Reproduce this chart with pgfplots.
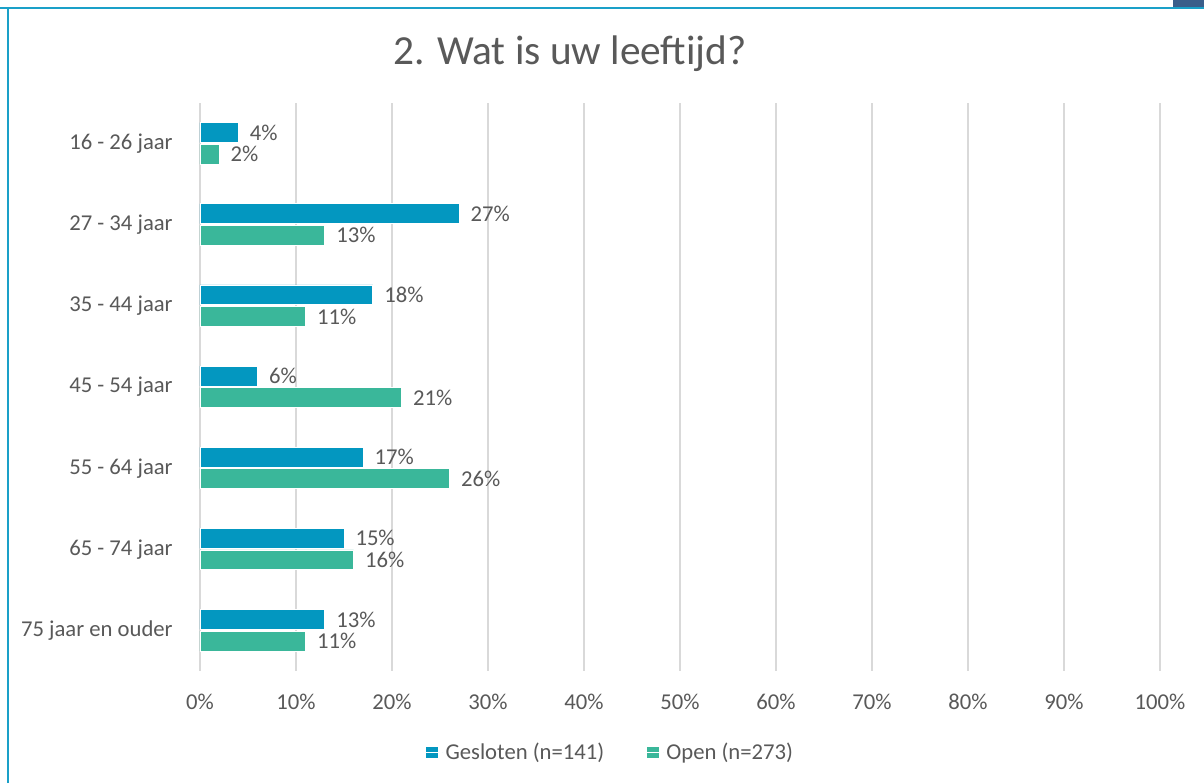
\documentclass[border=0pt]{standalone}
\usepackage{pgfplots}
\pgfplotsset{compat=1.18}
\usepackage{fontspec}
\setmainfont{Carlito}
\definecolor{gblue}{RGB}{3,151,192}
\definecolor{ogreen}{RGB}{58,183,154}
\definecolor{txt}{RGB}{89,89,89}
\definecolor{gridc}{RGB}{217,217,217}
\definecolor{frame}{RGB}{26,160,200}
\definecolor{corner}{RGB}{58,94,138}
\begin{document}
\begin{tikzpicture}[x=0.75pt,y=0.75pt]
\path[use as bounding box] (0,0) rectangle (1204,783);
\fill[white] (0,0) rectangle (1204,783);
\fill[corner] (1173,776) rectangle (1204,783);
\draw[frame,line width=1.5pt] (0,775) -- (1204,775);
\draw[frame,line width=1.5pt] (7.5,0) -- (7.5,775);
\node[txt,font=\fontsize{31}{37}\selectfont] at (570,729) {2. Wat is uw leeftijd?};
\begin{axis}[
  at={(150pt,84pt)}, anchor=south west,
  width=720pt, height=426pt, scale only axis,
  xbar, bar shift=0pt, bar width=0.245,
  xmin=0, xmax=100,
  ymin=-0.5, ymax=6.5, y dir=reverse,
  xtick={0,10,...,100},
  ytick={0,1,2,3,4,5,6},
  yticklabels={16 - 26 jaar,27 - 34 jaar,35 - 44 jaar,45 - 54 jaar,55 - 64 jaar,65 - 74 jaar,75 jaar en ouder},
  xticklabel={\pgfmathprintnumber{\tick}\%},
  /pgf/number format/assume math mode=true,
  xmajorgrids, major grid style={gridc,line width=1.1pt},
  axis line style={draw=none},
  major tick length=0pt,
  tick label style={txt,font=\fontsize{17}{20}\selectfont},
  xticklabel style={yshift=-14pt},
  yticklabel style={xshift=-17pt},
  nodes near coords={\pgfmathprintnumber{\pgfplotspointmeta}\%},
  point meta=x,
  every node near coord/.append style={txt,font=\fontsize{17}{20}\selectfont,anchor=west,xshift=5pt,
    /pgf/number format/assume math mode=true},
  legend style={at={(axis description cs:0.428,-0.143)},anchor=center,draw=none,
    legend columns=2,font=\fontsize{17}{20}\selectfont,text=txt,
    /tikz/every even column/.append style={column sep=30pt}},
  legend image code/.code={\path[#1,draw=none] (0pt,-4.3pt) rectangle (8.6pt,4.3pt);\path (0pt,0pt) -- (12pt,0pt);},
  clip=false,
]
\addplot[fill=gblue,draw=white,line width=0.6pt] coordinates {
(4,-0.135) (27,0.865) (18,1.865) (6,2.865) (17,3.865) (15,4.865) (13,5.865)};
\addlegendentry{Gesloten (n=141)}
\addplot[fill=ogreen,draw=white,line width=0.6pt] coordinates {
(2,0.13) (13,1.13) (11,2.13) (21,3.13) (26,4.13) (16,5.13) (11,6.13)};
\addlegendentry{Open (n=273)}
\end{axis}
\end{tikzpicture}
\end{document}
